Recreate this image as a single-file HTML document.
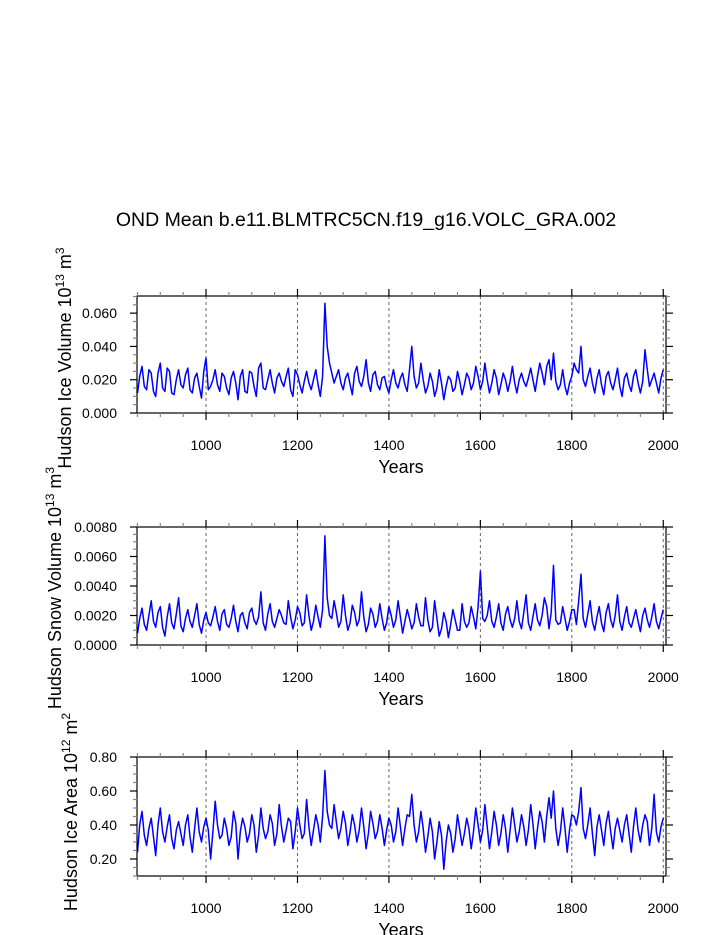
<!DOCTYPE html>
<html><head><meta charset="utf-8"><style>
html,body{margin:0;padding:0;background:#fff;}
svg{display:block;font-family:"Liberation Sans",Arial,sans-serif;}
</style></head><body>
<svg id="chart" width="723" height="935" viewBox="0 0 723 935" xmlns="http://www.w3.org/2000/svg">
<text x="366" y="226" font-size="19.5" text-anchor="middle">OND Mean b.e11.BLMTRC5CN.f19_g16.VOLC_GRA.002</text>
</svg>
<script>
const years = [];
for (let y = 850; y <= 2000; y += 10) years.push(y);
const midYears = [];
for (let y = 855; y <= 1995; y += 10) midYears.push(y);
const iceVolume = [.012,.028,.014,.024,.010,.030,.013,.025,.011,.026,.015,.027,.012,.024,.009,.033,
.016,.026,.013,.022,.011,.025,.008,.026,.012,.024,.010,.030,.014,.026,.012,.024,.016,.027,.010,.023,.012,.025,.014,.026,.010,
.066,.030,.018,
.026,.014,.024,.011,.028,.016,.032,.013,.025,.014,.022,.012,.026,.015,.024,.013,
.040,
.015,.030,.012,.024,.010,.026,.008,.022,.013,.025,.011,.024,.014,.028,
.014,.030,.012,.026,.011,.024,.013,.028,.012,.024,.016,.027,.013,.030,.017,.032,
.036,.014,.026,.011,.022,
.026,.040,
.016,.027,.012,.026,.011,.025,.014,.027,.010,.024,.013,.026,.012,
.038,.016,.024,.012,.026];
const iceVolumeMid = [.022,.016,.026,.013,.024,.015,.027,.012,.020,.017,.023,.014,.021,.016,.025,.014,
.020,.017,.024,.015,.021,.018,.022,.013,.025,.016,.027,.015,.020,.018,.021,.019,.022,.014,.026,.017,.019,.018,.020,.017,.022,
.040,.024,.022,
.018,.021,.017,.024,.019,.022,.018,.023,.017,.021,.016,.020,.018,.021,.017,.026,
.022,.018,.020,.016,.019,.015,.018,.016,.020,.015,.019,.017,.021,.018,
.022,.019,.020,.018,.021,.017,.020,.019,.018,.020,.019,.021,.020,.022,.024,.028,
.020,.019,.017,.016,.018,
.030,.024,.020,.022,.018,.021,.017,.022,.018,.020,.016,.021,.017,.022,.018,.019,.026,.020,.018,.021];
const snowVolume = [.0008,.0025,.0010,.0030,.0012,.0026,.0006,.0028,.0011,.0032,.0009,.0024,.0012,.0028,.0008,.0022,.0013,.0026,.0010,.0024,.0012,.0027,.0009,.0022,.0011,.0025,.0014,.0036,.0010,.0028,.0012,.0024,.0015,.0030,.0011,.0026,.0013,.0034,.0010,.0027,.0012,
.0074,
.0020,.0030,.0012,.0034,.0010,.0027,.0013,.0036,.0009,.0025,.0012,.0028,.0010,.0026,.0012,.0030,.0008,.0024,.0011,.0028,.0013,.0032,.0009,.0030,.0006,.0022,.0005,.0024,.0010,.0028,.0012,.0026,.0011,
.0050,
.0016,.0030,.0012,.0028,.0010,.0026,.0012,.0030,.0011,.0034,.0010,.0028,.0013,.0032,.0011,
.0054,
.0014,.0026,.0010,.0024,.0014,
.0048,
.0012,.0030,.0010,.0026,.0009,.0028,.0012,.0034,.0010,.0026,.0012,.0024,.0009,.0025,.0012,.0028,.0011,.0024];
const snowVolumeMid = [.0018,.0014,.0020,.0016,.0022,.0012,.0019,.0015,.0021,.0013,.0018,.0016,.0020,.0014,.0017,.0015,
.0019,.0016,.0021,.0014,.0018,.0016,.0020,.0015,.0022,.0017,.0019,.0015,.0021,.0016,.0018,.0020,.0014,.0019,.0017,.0022,.0015,.0020,.0016,.0019,.0024,
.0032,.0018,.0022,
.0016,.0020,.0015,.0022,.0017,.0019,.0014,.0021,.0016,.0018,.0015,.0020,.0017,.0019,.0016,.0018,
.0015,.0019,.0013,.0017,.0012,.0018,.0011,.0016,.0014,.0017,.0010,.0016,.0015,.0019,
.0026,.0018,.0020,.0016,.0019,.0015,.0021,.0017,.0018,.0016,.0022,.0015,.0019,.0017,.0020,.0026,
.0022,.0017,.0015,.0018,.0016,
.0024,.0030,.0018,.0021,.0016,.0019,.0015,.0022,.0017,.0020,.0016,.0019,.0015,.0018,.0016,.0020,.0017,.0019,.0016,.0018];
const iceArea = [.24,.48,.28,.44,.22,.50,.30,.46,.26,.42,.28,.46,.24,.50,.30,.44,.20,.54,.32,.44,.28,.48,.20,.44,.30,.46,.24,.50,.32,.46,.28,.52,.30,.44,.26,.50,.32,.55,.28,.46,.30,
.72,
.40,.52,.32,.48,.28,.46,.30,.50,.26,.48,.32,.46,.28,.44,.30,.50,.28,.46,
.58,
.30,.48,.24,.44,.20,.42,.14,.40,.24,.46,.28,.44,.26,.50,
.30,.52,.26,.48,.28,.46,.24,.50,.30,.46,.28,.52,.26,.48,.30,.56,
.60,
.28,.50,.24,.46,.40,
.62,
.32,.50,.22,.46,.28,.48,.26,.44,.30,.46,.24,.50,.30,.46,.28,.58,.30,.44];
const iceAreaMid = [.40,.34,.38,.33,.40,.36,.39,.32,.37,.35,.40,.33,.38,.36,.39,.37,
.36,.40,.34,.38,.33,.41,.36,.39,.35,.40,.34,.38,.36,.41,.35,.39,.37,.42,.36,.40,.35,.39,.37,.40,.45,
.48,.38,.42,
.38,.41,.36,.40,.37,.39,.35,.41,.36,.38,.37,.40,.36,.39,.38,.45,
.40,.36,.38,.33,.36,.30,.34,.30,.35,.32,.37,.35,.38,.36,
.40,.37,.39,.36,.40,.35,.38,.37,.40,.36,.39,.37,.41,.38,.42,.45,
.44,.38,.36,.38,.37,
.45,.48,.38,.40,.35,.39,.37,.41,.36,.38,.37,.40,.35,.39,.37,.40,.42,.38,.36,.39];
const xTicks = [1000,1200,1400,1600,1800,2000];
const yTicks1 = [0,0.02,0.04,0.06];
const yTickLabels1 = ["0.000","0.020","0.040","0.060"];
const yTicks2 = [0,0.002,0.004,0.006,0.008];
const yTickLabels2 = ["0.0000","0.0020","0.0040","0.0060","0.0080"];
const yTicks3 = [0.2,0.4,0.6,0.8];
const yTickLabels3 = ["0.20","0.40","0.60","0.80"];

const NS = "http://www.w3.org/2000/svg";
const svg = document.getElementById("chart");
function mk(tag, attrs, parent) {
  const e = document.createElementNS(NS, tag);
  for (const k in attrs) e.setAttribute(k, attrs[k]);
  (parent || svg).appendChild(e);
  return e;
}
const X0 = 137, X1 = 666, XMIN = 849, XMAX = 2006;
function xs(v) { return X0 + (v - XMIN) / (XMAX - XMIN) * (X1 - X0); }

function panel(p) {
  const g = mk("g", {});
  
  
  const ys = v => p.bot - (v - p.ymin) / (p.ymax - p.ymin) * (p.bot - p.top);
  xTicks.forEach(t => {
    const l = mk("line", {x1: xs(t), x2: xs(t), y1: p.top, y2: p.bot, stroke: "#666", "stroke-width": 1, "stroke-dasharray": "3,3"}, g);
    
    
  });
  const pts = [];
  p.values.forEach((v, i) => {
    pts.push([years[i], v]);
    if (i < p.mid.length) pts.push([midYears[i], p.mid[i]]);
  });
  let d = "";
  pts.forEach((q, i) => { d += (i ? "L" : "M") + xs(q[0]).toFixed(1) + "," + ys(q[1]).toFixed(1); });
  const path = mk("path", {d: d, fill: "none", stroke: "#0000ff", "stroke-width": 1.5, "stroke-linejoin": "round"}, g);
  
  
  const fr = mk("rect", {x: X0, y: p.top, width: X1 - X0, height: p.bot - p.top, fill: "none", stroke: "#000", "stroke-width": 1.2}, g);
  
  
  for (let t = 850; t <= 2005; t += 50) {
    const maj = t % 200 === 0;
    const L = maj ? 7 : 4, c = maj ? "#000" : "#888";
    mk("line", {x1: xs(t), x2: xs(t), y1: p.bot, y2: p.bot + L, stroke: c, "stroke-width": 1.2}, g);
    mk("line", {x1: xs(t), x2: xs(t), y1: p.top, y2: p.top - L, stroke: c, "stroke-width": 1.2}, g);
  }
  xTicks.forEach(t => {
    const tx = mk("text", {x: xs(t), y: p.bot + 37, "font-size": 14, "text-anchor": "middle"}, g);
    tx.textContent = t;
    
    
  });
  const xt = mk("text", {x: 401, y: p.bot + 60, "font-size": 18, "text-anchor": "middle"}, g);
  xt.textContent = "Years";
  
  
  for (let v = p.ymin; v <= p.ymax + 1e-9; v += p.minor) {
    const y = ys(v);
    if (y < p.top - 0.5) break;
    const maj = p.ticks.some(t => Math.abs(t - v) < p.minor / 10);
    const L = maj ? 7 : 4, c = maj ? "#000" : "#888";
    mk("line", {x1: X0, x2: X0 - L, y1: y, y2: y, stroke: c, "stroke-width": 1.2}, g);
    mk("line", {x1: X1, x2: X1 + L, y1: y, y2: y, stroke: c, "stroke-width": 1.2}, g);
  }
  p.ticks.forEach((t, i) => {
    const tx = mk("text", {x: 117, y: ys(t) + 5, "font-size": 14, "text-anchor": "end"}, g);
    tx.textContent = p.labels[i];
    
    
  });
  const yt = mk("text", {x: 0, y: 0, "font-size": 18, "text-anchor": "middle", transform: "translate(" + p.tx + "," + p.ty + ") rotate(-90)"}, g);
  yt.innerHTML = p.title + ' 10<tspan dy="-7" font-size="12">' + p.exp + '</tspan><tspan dy="7"> m</tspan><tspan dy="-7" font-size="12">' + p.unit + '</tspan>';
  
  
}
panel({name: "ice-volume-panel", top: 296, bot: 413, ymin: 0, ymax: 0.0703, minor: 0.005, ticks: yTicks1, labels: yTickLabels1, values: iceVolume, mid: iceVolumeMid, title: "Hudson Ice Volume", exp: "13", unit: "3", tx: 71, ty: 358});
panel({name: "snow-volume-panel", top: 527, bot: 645, ymin: 0, ymax: 0.008, minor: 0.0005, ticks: yTicks2, labels: yTickLabels2, values: snowVolume, mid: snowVolumeMid, title: "Hudson Snow Volume", exp: "13", unit: "3", tx: 61, ty: 588});
panel({name: "ice-area-panel", top: 757, bot: 876, ymin: 0.1, ymax: 0.8, minor: 0.05, ticks: yTicks3, labels: yTickLabels3, values: iceArea, mid: iceAreaMid, title: "Hudson Ice Area", exp: "12", unit: "2", tx: 77, ty: 812});
</script>
</body></html>
